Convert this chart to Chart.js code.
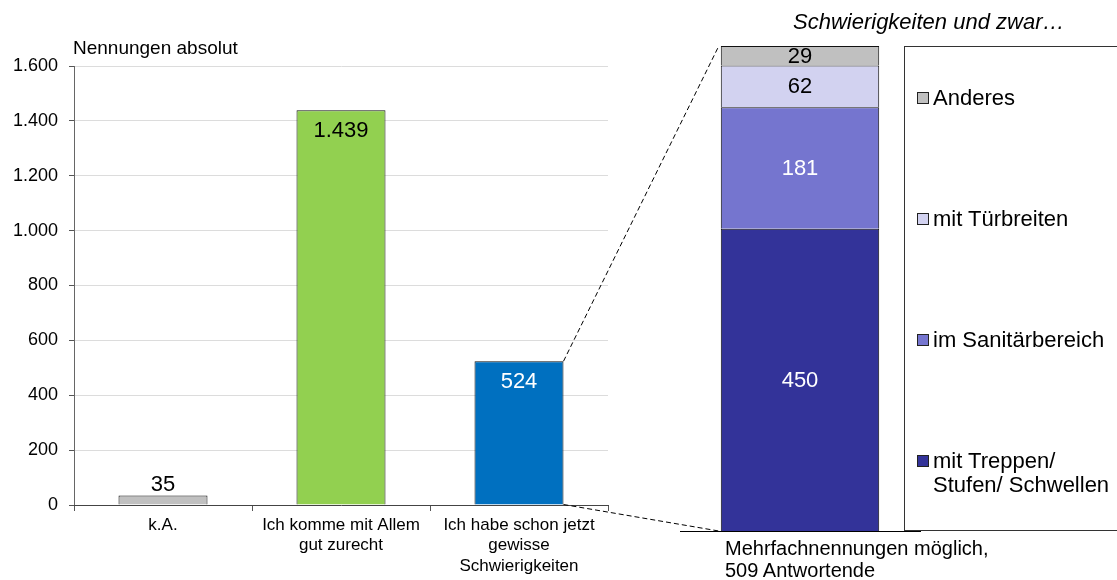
<!DOCTYPE html>
<html>
<head>
<meta charset="utf-8">
<script src="https://cdn.jsdelivr.net/npm/chart.js@4/dist/chart.umd.min.js"></script>
<style>
  body { margin: 0; background: #fff; font-family: "Liberation Sans", Arial, sans-serif; }
  #wrap { position: relative; width: 1117px; height: 580px; overflow: hidden; }
  canvas { position: absolute; top: 0; }
  #c1 { left: 0; }
  #c2 { left: 660px; }
  #lines { left: 0; pointer-events: none; }
  .txt { position: absolute; color: #000; white-space: nowrap; }
  #yTitle { left: 73px; top: 37px; font-size: 19px; }
  #detailTitle { left: 793px; top: 9px; font-size: 22px; font-style: italic; }
  #note { left: 725px; top: 537px; font-size: 20px; line-height: 22px; }
  #legend { position: absolute; left: 904px; top: 46px; width: 220px; height: 485px;
            border: 1px solid #333; box-sizing: border-box; padding-top: 39px;
            display: flex; flex-direction: column; gap: 97px; }
  .item { display: flex; align-items: flex-start; font-size: 22px; line-height: 24px; padding-left: 12px; }
  .sw { width: 10px; height: 10px; border: 1px solid #222; margin: 6px 4px 0 0; flex: none; }
</style>
</head>
<body>
<div id="wrap">
  <canvas id="c1" width="620" height="580"></canvas>
  <canvas id="c2" width="290" height="580"></canvas>
  <canvas id="lines" width="1117" height="580"></canvas>
  <div class="txt" id="yTitle">Nennungen absolut</div>
  <div class="txt" id="detailTitle">Schwierigkeiten und zwar…</div>
  <div id="legend"></div>
  <div class="txt" id="note">Mehrfachnennungen möglich,<br>509 Antwortende</div>
</div>
<script>
// main question
const categories = [['k.A.'], ['Ich komme mit Allem', 'gut zurecht'], ['Ich habe schon jetzt', 'gewisse', 'Schwierigkeiten']];
const counts = [35, 1439, 524];
const barColors = ['#C0C0C0', '#92D050', '#0070C0'];
const countLabelColors = ['#000', '#000', '#fff'];
const yMax = 1600;
const yStep = 200;

// detail: "Schwierigkeiten und zwar..." (stacked bottom -> top)
const detailSeries = [['mit Treppen/', 'Stufen/ Schwellen'], ['im Sanitärbereich'], ['mit Türbreiten'], ['Anderes']];
const detailValues = [450, 181, 62, 29];
const detailColors = ['#333399', '#7575CF', '#D2D2F0', '#C0C0C0'];
const detailLabelColors = ['#fff', '#fff', '#000', '#000'];

Chart.defaults.font.family = '"Liberation Sans", Arial, sans-serif';
Chart.defaults.color = '#000';

function fmt(v) {
  return String(v).replace(/\B(?=(\d{3})+(?!\d))/g, '.');
}

const barLabels = {
  id: 'barLabels',
  afterDatasetsDraw(chart, args, opts) {
    const ctx = chart.ctx;
    chart.data.datasets.forEach((ds, di) => {
      chart.getDatasetMeta(di).data.forEach((bar, i) => {
        const colors = ds.labelColor;
        ctx.save();
        ctx.font = '22px "Liberation Sans", Arial, sans-serif';
        ctx.fillStyle = Array.isArray(colors) ? colors[i] : colors;
        ctx.textAlign = 'center';
        ctx.textBaseline = 'middle';
        let y;
        if (opts.mode === 'center') y = (bar.y + bar.base) / 2 + 1;
        else if (bar.base - bar.y < 40) y = bar.y - 10;
        else y = bar.y + 21;
        ctx.fillText(fmt(ds.data[i]), bar.x, y);
        ctx.restore();
      });
    });
  }
};

const left = new Chart(document.getElementById('c1'), {
  type: 'bar',
  data: {
    labels: categories,
    datasets: [{
      data: counts,
      backgroundColor: barColors,
      borderColor: '#111',
      borderWidth: 1,
      barPercentage: 0.5,
      categoryPercentage: 1,
      labelColor: countLabelColors
    }]
  },
  options: {
    responsive: false,
    animation: false,
    layout: { padding: { top: 66, right: 12, left: 0, bottom: 0 } },
    plugins: { legend: { display: false }, tooltip: { enabled: false }, barLabels: { mode: 'top' } },
    scales: {
      y: {
        min: 0, max: yMax,
        ticks: { stepSize: yStep, callback: v => fmt(v), font: { size: 18 }, padding: 11 },
        grid: { color: '#dcdcdc', tickColor: '#555', tickLength: 5 },
        border: { color: '#666' },
        afterFit(s) { s.width = 74; }
      },
      x: {
        ticks: { font: { size: 17 }, padding: 4, maxRotation: 0, autoSkip: false },
        grid: { drawOnChartArea: false, tickLength: 6, color: '#555', offset: true },
        border: { color: '#444' },
        afterFit(s) { s.height = 75; }
      }
    }
  },
  plugins: [barLabels]
});

const detailTotal = detailValues.reduce((a, b) => a + b, 0);

const right = new Chart(document.getElementById('c2'), {
  type: 'bar',
  data: {
    labels: [''],
    datasets: detailSeries.map((name, i) => ({
      label: name.join(' '),
      data: [detailValues[i]],
      backgroundColor: detailColors[i],
      borderColor: '#111',
      borderWidth: 1,
      barPercentage: 0.66,
      categoryPercentage: 1,
      labelColor: detailLabelColors[i]
    }))
  },
  options: {
    responsive: false,
    animation: false,
    layout: { padding: { top: 46, left: 20, right: 30, bottom: 0 } },
    plugins: { legend: { display: false }, tooltip: { enabled: false }, barLabels: { mode: 'center' } },
    scales: {
      x: {
        stacked: true,
        ticks: { display: false },
        grid: { drawOnChartArea: false, drawTicks: false },
        border: { color: '#000' },
        afterFit(s) { s.height = 49; }
      },
      y: { stacked: true, display: false, min: 0, max: detailTotal }
    }
  },
  plugins: [barLabels]
});

// legend, top item first
const legend = document.getElementById('legend');
detailSeries.map((name, i) => ({ name, color: detailColors[i] })).reverse().forEach(it => {
  const row = document.createElement('div');
  row.className = 'item';
  row.innerHTML = '<span class="sw" style="background:' + it.color + '"></span><span>' + it.name.join('<br>') + '</span>';
  legend.appendChild(row);
});

// dashed connectors between the blue bar and the stacked bar
const c2Left = 660;
const src = left.getDatasetMeta(0).data[2];
const bottomSeg = right.getDatasetMeta(0).data[0];
const topSeg = right.getDatasetMeta(detailSeries.length - 1).data[0];
const lctx = document.getElementById('lines').getContext('2d');
lctx.strokeStyle = '#000';
lctx.lineWidth = 1;
lctx.setLineDash([5, 3]);
const sx = src.x + src.width / 2;
const tx = c2Left + topSeg.x - topSeg.width / 2 - 2;
lctx.beginPath();
lctx.moveTo(sx, src.y);
lctx.lineTo(tx, topSeg.y);
lctx.moveTo(sx, src.base);
lctx.lineTo(tx, bottomSeg.base);
lctx.stroke();
</script>
</body>
</html>
